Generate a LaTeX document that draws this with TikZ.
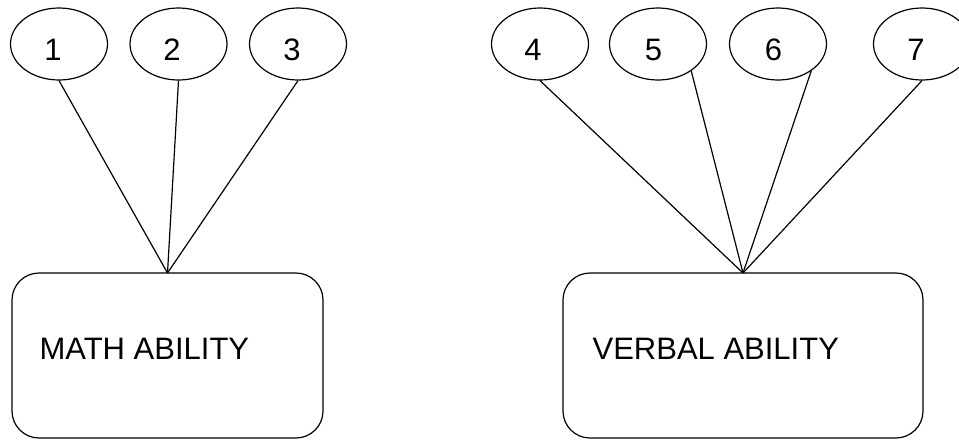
\documentclass[tikz,border=0pt]{standalone}
\usepackage{fontspec}
\setmainfont{Liberation Sans}
\usetikzlibrary{shapes.geometric}
\begin{document}
\begin{tikzpicture}[x=1pt,y=-1pt,
  line width=1.2pt,
  oval/.style={draw,ellipse,minimum width=97pt,minimum height=72pt,inner sep=0pt},
  numtext/.style={anchor=base,inner sep=0pt,font=\fontsize{31}{37}\selectfont},
  abilitybox/.style={draw,rounded corners=27pt,minimum height=165pt,inner sep=0pt},
  boxtext/.style={anchor=base west,inner sep=0pt,font=\fontsize{31}{37}\selectfont},
  link/.style={line width=1.2pt}]
\useasboundingbox (0,0) rectangle (959,440);
\clip (0,0) rectangle (959,440);
% ellipses
\node[oval] (e1) at (59,44) {};
\node[oval] (e2) at (178.5,44) {};
\node[oval] (e3) at (298,44) {};
\node[oval] (e4) at (540,44) {};
\node[oval] (e5) at (658,44) {};
\node[oval] (e6) at (778,44) {};
\node[oval] (e7) at (922,44) {};
\node[numtext] (t1) at (53,60) {1};
\node[numtext] (t2) at (172,60) {2};
\node[numtext] (t3) at (292,60) {3};
\node[numtext] (t4) at (533,60) {4};
\node[numtext] (t5) at (653.5,60) {5};
\node[numtext] (t6) at (773.5,60) {6};
\node[numtext] (t7) at (916,60) {7};
% boxes
\node[abilitybox,minimum width=311pt] (m) at (167.5,355.5) {};
\node[abilitybox,minimum width=360pt] (v) at (743,355.5) {};
\node[boxtext] (mt) at (39,359) {MATH ABILITY};
\node[boxtext] (vt) at (592,359) {VERBAL ABILITY};
% connectors
\coordinate (ma) at (167.5,273);
\coordinate (va) at (743,273);
\draw[link] (e1.south) -- (ma);
\draw[link] (e2.south) -- (ma);
\draw[link] (e3.south) -- (ma);
\draw[link] (e4.south) -- (va);
\draw[link] (e5.-39) -- (va);
\draw[link] (e6.-39) -- (va);
\draw[link] (e7.south) -- (va);
\end{tikzpicture}
\end{document}
